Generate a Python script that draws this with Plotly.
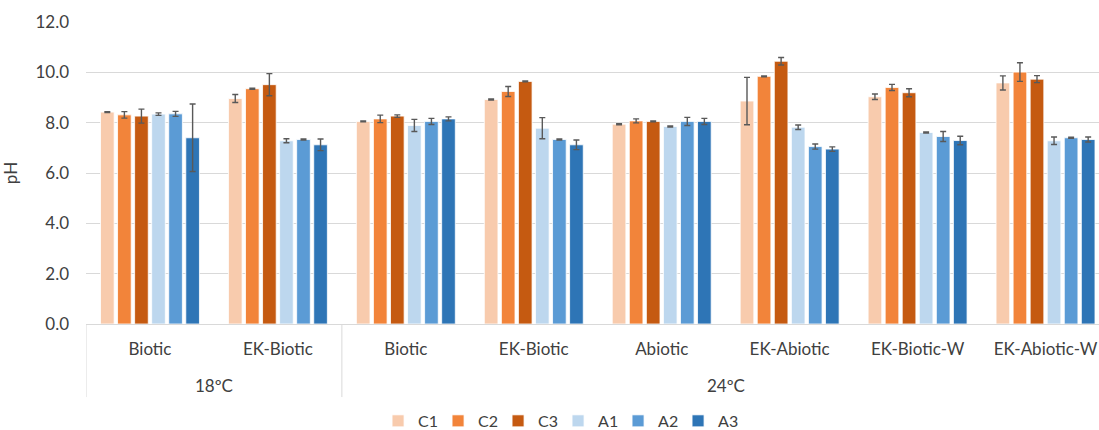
import plotly.graph_objects as go

# Grouping of the x axis: temperature (outer) and treatment (inner)
temps = ["18ºC", "18ºC", "24ºC", "24ºC", "24ºC", "24ºC", "24ºC", "24ºC"]
treatments = ["Biotic", "EK-Biotic", "Biotic", "EK-Biotic", "Abiotic",
              "EK-Abiotic", "EK-Biotic-W", "EK-Abiotic-W"]

# Mean pH per series and its standard deviation
c1 = [8.42, 8.96, 8.05, 8.92, 7.94, 8.86, 9.03, 9.58]
c1_err = [0.02, 0.16, 0.02, 0.02, 0.02, 0.94, 0.11, 0.28]
c2 = [8.31, 9.35, 8.15, 9.24, 8.07, 9.84, 9.40, 10.01]
c2_err = [0.13, 0.02, 0.15, 0.20, 0.08, 0.02, 0.12, 0.37]
c3 = [8.26, 9.51, 8.26, 9.64, 8.05, 10.44, 9.19, 9.73]
c3_err = [0.28, 0.44, 0.05, 0.02, 0.02, 0.15, 0.16, 0.14]
a1 = [8.34, 7.28, 7.89, 7.78, 7.85, 7.82, 7.61, 7.28]
a1_err = [0.05, 0.08, 0.24, 0.42, 0.02, 0.09, 0.02, 0.15]
a2 = [8.35, 7.33, 8.05, 7.33, 8.05, 7.05, 7.45, 7.40]
a2_err = [0.10, 0.02, 0.12, 0.02, 0.16, 0.10, 0.20, 0.02]
a3 = [7.40, 7.12, 8.15, 7.12, 8.05, 6.95, 7.29, 7.33]
a3_err = [1.34, 0.23, 0.08, 0.19, 0.12, 0.09, 0.17, 0.10]

series_names = ["C1", "C2", "C3", "A1", "A2", "A3"]
series_values = [c1, c2, c3, a1, a2, a3]
series_errors = [c1_err, c2_err, c3_err, a1_err, a2_err, a3_err]
series_colors = ["#F8CBAD", "#F2843A", "#C55A11", "#BDD7EE", "#5B9BD5", "#2E75B6"]

y_ticks = [0, 2, 4, 6, 8, 10, 12]

FONT = "Lato"
TEXT = "#404040"
GRID = "#D9D9D9"

# one slot per treatment along x
xpos = list(range(len(treatments)))

fig = go.Figure()
for name, vals, errs, col in zip(series_names, series_values, series_errors, series_colors):
    fig.add_trace(go.Bar(
        x=xpos,
        y=vals,
        name=name,
        marker=dict(color=col, line=dict(color="white", width=0.8)),
        error_y=dict(type="data", array=errs, visible=True,
                     color="#595959", thickness=1.4, width=3),
    ))

# temperature blocks: label centred under its treatments, divider lines at block edges
blocks = []
for i, t in enumerate(temps):
    if blocks and blocks[-1][0] == t:
        blocks[-1][2] = i
    else:
        blocks.append([t, i, i])

divider_bottom = -0.242
for t, first, last in blocks:
    fig.add_annotation(
        x=(first + last) / 2, xref="x",
        y=-0.202, yref="paper",
        text=t, showarrow=False, yanchor="middle",
        font=dict(family=FONT, size=17, color=TEXT),
    )
    fig.add_shape(
        type="line", xref="x", yref="paper",
        x0=first - 0.5, x1=first - 0.5, y0=0, y1=divider_bottom,
        line=dict(color=GRID, width=1),
    )

fig.update_layout(
    width=1099,
    height=430,
    barmode="group",
    bargap=0.2,
    bargroupgap=0.2,
    plot_bgcolor="white",
    paper_bgcolor="white",
    margin=dict(l=86, r=0, t=22, b=106, autoexpand=False),
    font=dict(family=FONT, size=17, color=TEXT),
    legend=dict(
        orientation="h",
        x=0.466, xanchor="center",
        y=-0.321, yanchor="middle",
        font=dict(family=FONT, size=16, color=TEXT),
        entrywidth=15,
        traceorder="normal",
    ),
    showlegend=True,
)

fig.update_xaxes(
    range=[-0.5, 7.418],
    tickvals=xpos,
    ticktext=treatments,
    showline=True,
    linecolor=GRID,
    linewidth=1,
    showgrid=False,
    zeroline=False,
    ticklabelstandoff=10,
    tickfont=dict(family=FONT, size=17, color=TEXT),
)

fig.update_yaxes(
    range=[0, 12],
    tickvals=y_ticks,
    tickformat=".1f",
    showgrid=True,
    gridcolor=GRID,
    gridwidth=1,
    zeroline=False,
    showline=False,
    ticklabelstandoff=16,
    tickfont=dict(family=FONT, size=17, color=TEXT),
    title=dict(text="pH", font=dict(family=FONT, size=17, color=TEXT), standoff=14),
)

fig.write_html("out.html")
